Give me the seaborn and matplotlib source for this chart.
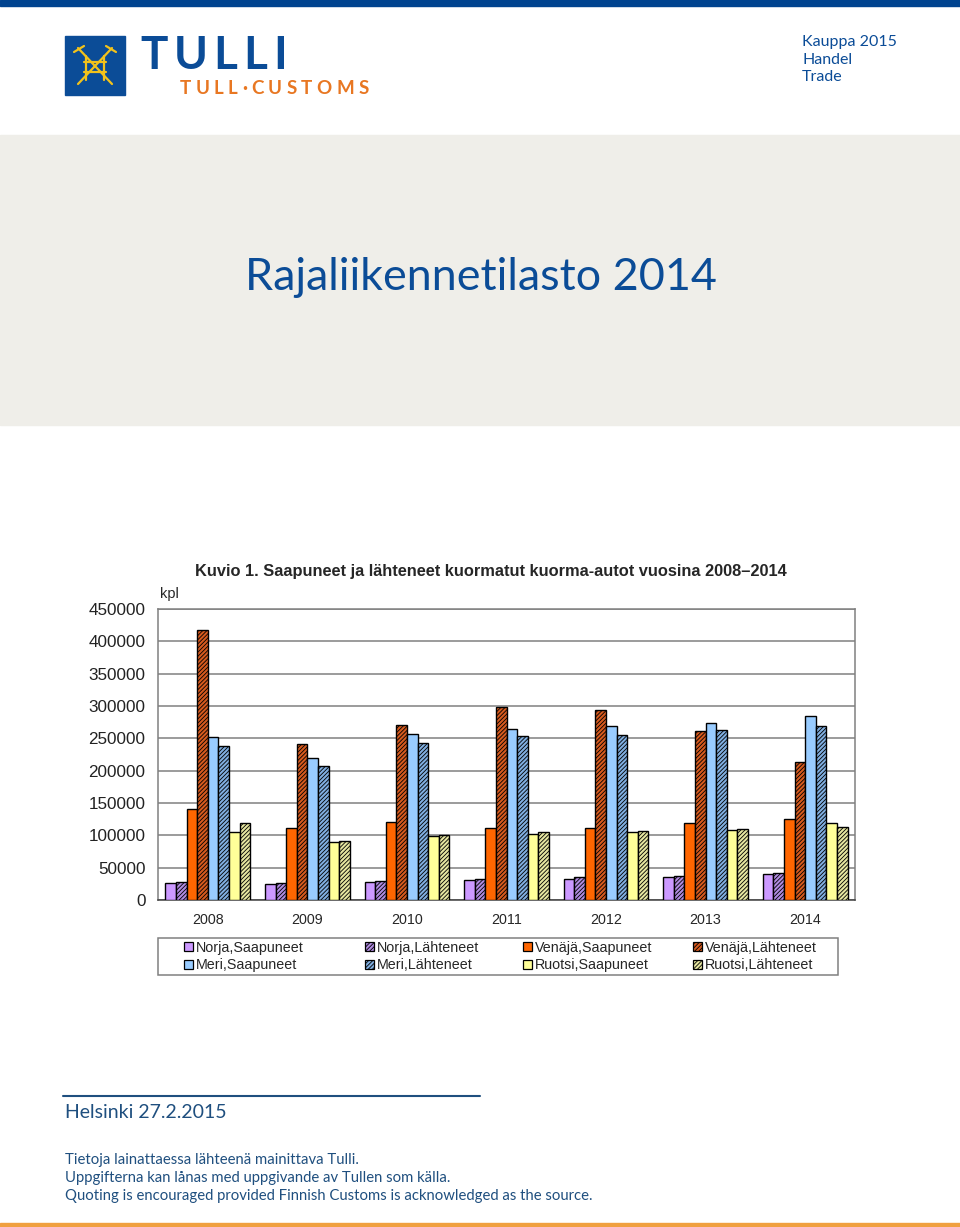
import matplotlib
matplotlib.use("Agg")
import matplotlib.pyplot as plt
import seaborn as sns
import pandas as pd
from matplotlib.patches import Rectangle, Patch
from matplotlib.lines import Line2D

years = ["2008", "2009", "2010", "2011", "2012", "2013", "2014"]
series = ["Norja,Saapuneet", "Norja,Lähteneet", "Venäjä,Saapuneet", "Venäjä,Lähteneet",
          "Meri,Saapuneet", "Meri,Lähteneet", "Ruotsi,Saapuneet", "Ruotsi,Lähteneet"]
norja_saap = [26300, 24700, 28400, 30900, 33000, 35100, 39700]
norja_laht = [27800, 26300, 29900, 32500, 35600, 36600, 41200]
venaja_saap = [141200, 110800, 120100, 110800, 111900, 119600, 125300]
venaja_laht = [418000, 241300, 271200, 298500, 293800, 260800, 213400]
meri_saap = [251600, 220100, 257200, 265000, 268600, 274300, 284600]
meri_laht = [238700, 206700, 243300, 253600, 255700, 262900, 269100]
ruotsi_saap = [104600, 89200, 98500, 102600, 105200, 108300, 119100]
ruotsi_laht = [119100, 91200, 100500, 104600, 106700, 109300, 112900]
yticks = [0, 50000, 100000, 150000, 200000, 250000, 300000, 350000, 400000, 450000]

values = [norja_saap, norja_laht, venaja_saap, venaja_laht,
          meri_saap, meri_laht, ruotsi_saap, ruotsi_laht]
colors = ["#cc99ff", "#b08ae0", "#ff6600", "#d65a1e",
          "#99ccff", "#80aee0", "#ffff99", "#e6e6a0"]
hatched = [False, True, False, True, False, True, False, True]
HATCH = "////////"

rows = []
for s, vals in zip(series, values):
    for y, v in zip(years, vals):
        rows.append({"Vuosi": y, "Sarja": s, "Määrä": v})
df = pd.DataFrame(rows)

sns.set_theme(style="white")
chart_font = ["Liberation Sans Narrow", "Liberation Sans", "DejaVu Sans"]
page_font = ["Lato", "DejaVu Sans"]
plt.rcParams["font.family"] = chart_font
plt.rcParams["hatch.linewidth"] = 0.6

W, H = 960, 1227
fig = plt.figure(figsize=(W / 100, H / 100), dpi=100)
renderer = fig.canvas.get_renderer()

def fx(px):
    return px / W

def fy(py):
    return 1 - py / H

def tracked_text(s, x0, y, tracking, **kw):
    x = x0
    for ch in s:
        t = fig.text(fx(x), fy(y), ch, ha="left", va="center", **kw)
        w = t.get_window_extent(renderer=renderer).width
        x += w + tracking

blue = "#0b4c97"
# page decorations
fig.patches.append(Rectangle((0, fy(6)), 1, 6 / H, transform=fig.transFigure,
                             color="#00438f", zorder=0))
fig.patches.append(Rectangle((0, fy(425)), 1, 290 / H, transform=fig.transFigure,
                             color="#efeee9", zorder=0))
fig.patches.append(Rectangle((0, 0), 1, 4 / H, transform=fig.transFigure,
                             color="#f0a040", zorder=0))
# logo
fig.patches.append(Rectangle((fx(65), fy(95)), 60 / W, 59 / H, transform=fig.transFigure,
                             color=blue, zorder=1))
for (x0, y0, x1, y1) in [(78, 48, 112, 84), (112, 48, 78, 84), (84, 62, 106, 62),
                         (84, 72, 106, 72), (86, 56, 86, 80), (104, 56, 104, 80),
                         (74, 52, 84, 46), (116, 52, 106, 46)]:
    fig.add_artist(Line2D([fx(x0), fx(x1)], [fy(y0), fy(y1)], transform=fig.transFigure,
                          color="#f2c21b", lw=1.6, zorder=2))
tracked_text("TULLI", 140, 56, 6.0, family=page_font, fontsize=33, fontweight="bold",
             color=blue)
tracked_text("TULL·CUSTOMS", 180, 89, 4.3, family=page_font, fontsize=13.5,
             fontweight="bold", color="#e87722")

for t, yy in zip(["Kauppa 2015", "Handel", "Trade"], [42, 60, 77]):
    fig.text(fx(802), fy(yy), t, family=page_font, fontsize=11.5, color=blue,
             ha="left", va="center")

fig.text(fx(481), fy(278), "Rajaliikennetilasto 2014", family=page_font, fontsize=32.3,
         color=blue, ha="center", va="center")

# footer
fig.add_artist(Line2D([fx(63), fx(480)], [fy(1096), fy(1096)], transform=fig.transFigure,
                      color="#1f4f7f", lw=1.5))
fig.text(fx(65), fy(1113), "Helsinki 27.2.2015", family=page_font, fontsize=14,
         color="#1f4f7f", ha="left", va="center")
for t, yy in zip(["Tietoja lainattaessa lähteenä mainittava Tulli.",
                  "Uppgifterna kan lånas med uppgivande av Tullen som källa.",
                  "Quoting is encouraged provided Finnish Customs is acknowledged as the source."],
                 [1160, 1178, 1196]):
    fig.text(fx(65), fy(yy), t, family=page_font, fontsize=10.7, color="#1f4f7f",
             ha="left", va="center")

# chart
ax = fig.add_axes([fx(158), fy(900), fx(855) - fx(158), (900 - 609) / H])
sns.barplot(data=df, x="Vuosi", y="Määrä", hue="Sarja", hue_order=series,
            palette=colors, saturation=1, width=0.85, edgecolor="black",
            linewidth=1.0, legend=False, ax=ax, zorder=3)
for cont, h in zip(ax.containers, hatched):
    if h:
        for p in cont.patches:
            p.set_hatch(HATCH)

ax.set_xlim(-0.5, 6.5)
ax.set_ylim(0, 450000)
ax.set_yticks(yticks)
ax.set_yticklabels([str(v) for v in yticks], fontsize=12.3,
                   family=["Liberation Sans", "DejaVu Sans"], color="#222222")
ax.set_xticks(range(len(years)))
ax.set_xticklabels(years, fontsize=10.3)
ax.set_xticks([i + 0.5 for i in range(-1, len(years))], minor=True)
ax.tick_params(axis="x", which="major", length=0, pad=9)
ax.tick_params(axis="x", which="minor", length=4, direction="out", color="#808080", width=1)
ax.tick_params(axis="y", length=3, direction="out", color="#808080", pad=6)
ax.grid(axis="y", color="#808080", lw=1.1, zorder=0)
ax.set_axisbelow(True)
ax.set_xlabel("")
ax.set_ylabel("")
for side in ["left", "right", "top"]:
    ax.spines[side].set_color("#808080")
    ax.spines[side].set_linewidth(1.1)
ax.spines["bottom"].set_color("#404040")
ax.spines["bottom"].set_linewidth(1.1)

fig.text(fx(491), fy(572), "Kuvio 1. Saapuneet ja lähteneet kuormatut kuorma-autot vuosina 2008\u20132014",
         fontsize=11.8, fontweight="bold", ha="center", va="center")
fig.text(fx(160), fy(594), "kpl", fontsize=10.5, ha="left", va="center")

# legend frame and entries (four columns, two rows)
fig.patches.append(Rectangle((fx(158), fy(975)), (838 - 158) / W, 37 / H,
                             transform=fig.transFigure, facecolor="white",
                             edgecolor="#808080", lw=1.1, zorder=1))
handles = []
for c, h, s in zip(colors, hatched, series):
    handles.append(Patch(facecolor=c, edgecolor="black", linewidth=0.9,
                         hatch=HATCH if h else None, label=s))
col_x = [184, 365, 523, 693]
for ci, cx in enumerate(col_x):
    idx = [ci, ci + 4]
    leg = fig.legend([handles[i] for i in idx], [series[i] for i in idx], ncol=1,
                     loc="center left", bbox_to_anchor=(fx(cx), fy(956.5)),
                     fontsize=10.3, frameon=False, handlelength=0.6, handleheight=0.6,
                     handletextpad=0.2, borderpad=0.0, labelspacing=0.25,
                     borderaxespad=0)
    leg.set_zorder(2)

fig.savefig("out.png", dpi=100)
